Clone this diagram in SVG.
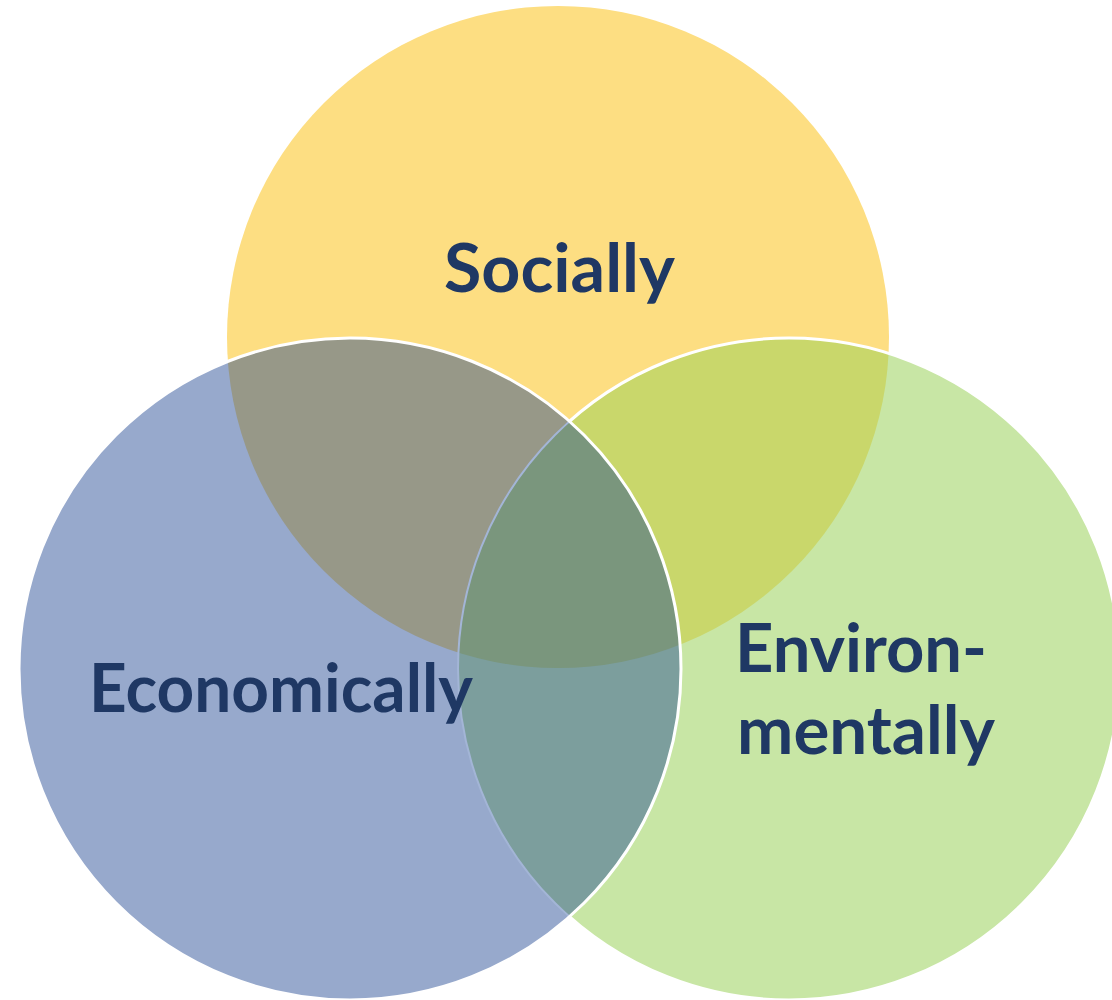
<svg xmlns="http://www.w3.org/2000/svg" width="1112" height="1000" viewBox="0 0 1112 1000">
<style>
.lbl{font-family:"Lato","Liberation Sans",sans-serif;font-weight:bold;font-size:66px;fill:#1F3864}
.edge{fill:none;stroke:#FFFFFF;stroke-width:3}
</style>
<defs>
<circle id="cY" cx="558" cy="337" r="331"/>
<circle id="cG" cx="789" cy="669" r="331"/>
<circle id="cB" cx="350" cy="669" r="331"/>
<clipPath id="clipY"><use href="#cY"/></clipPath>
<clipPath id="clipG"><use href="#cG"/></clipPath>
<clipPath id="clipB"><use href="#cB"/></clipPath>
</defs>
<rect width="1112" height="1000" fill="#FFFFFF"/>
<g id="socially">
<use href="#cY" fill="#FDDE82"/>
</g>
<g id="environmentally">
<use href="#cG" fill="#C8E6A5"/>
<use href="#cG" fill="#C9D76B" clip-path="url(#clipY)"/>
<use href="#cG" class="edge"/>
</g>
<g id="economically">
<use href="#cB" fill="#97A9CC"/>
<g clip-path="url(#clipB)">
<use href="#cY" fill="#979888"/>
<use href="#cG" fill="#7C9E9D"/>
<g clip-path="url(#clipY)"><use href="#cG" fill="#7A967D"/></g>
<use href="#cG" fill="none" stroke="#A3B5D6" stroke-width="2"/>
</g>
<use href="#cB" class="edge"/>
</g>
<g id="labels">
<text class="lbl" x="444" y="292" textLength="231" lengthAdjust="spacingAndGlyphs">Socially</text>
<text class="lbl" x="89" y="712" textLength="384" lengthAdjust="spacingAndGlyphs">Economically</text>
<text class="lbl" x="735" y="672" textLength="252" lengthAdjust="spacingAndGlyphs">Environ-</text>
<text class="lbl" x="737" y="754" textLength="258" lengthAdjust="spacingAndGlyphs">mentally</text>
</g>
<g id="connectors"/>
</svg>
